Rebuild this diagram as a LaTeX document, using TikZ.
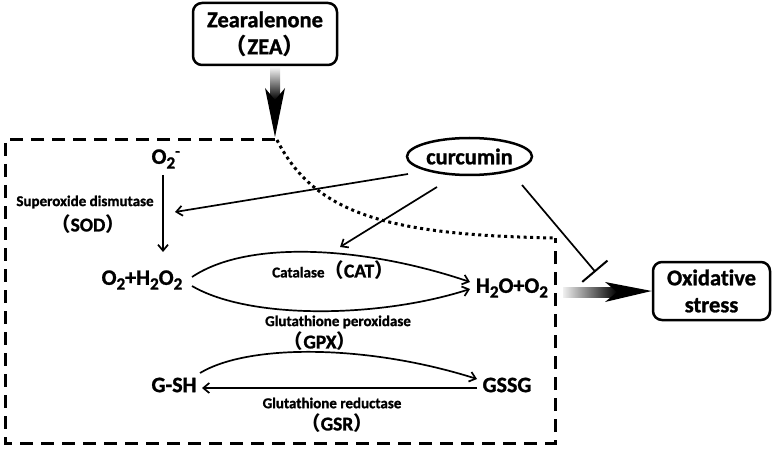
\documentclass[tikz,border=0pt]{standalone}
\usepackage{fontspec}
\setmainfont{Carlito}[Ligatures=NoCommon, BoldFeatures={FakeBold=1.2}]
\newfontfamily\cjk{Noto Sans CJK SC}
\usetikzlibrary{shapes.geometric,arrows.meta}
\newcommand{\chsub}[1]{\raisebox{-0.45ex}{\scalebox{0.78}{#1}}}
\newcommand{\lp}{{\cjk （}}
\newcommand{\rp}{{\cjk ）}}
\tikzset{
  bigtxt/.style={font=\bfseries\fontsize{22.5}{27}\selectfont, align=center},
  medtxt/.style={font=\bfseries\fontsize{22}{24}\selectfont, inner sep=0pt},
  smalltxt/.style={font=\bfseries\fontsize{15}{17}\selectfont, inner sep=0pt},
  parentxt/.style={font=\bfseries\fontsize{19.5}{22}\selectfont, inner sep=0pt},
  roundbox/.style={draw, line width=2.5pt, rounded corners=9pt, inner sep=0pt},
  arr/.style={line width=1.7pt, -{Straight Barb[length=6pt,width=10pt,line width=1.7pt]}},
  inhib/.style={line width=1.7pt, -{Bar[width=33pt,line width=2pt]}},
  dashbox/.style={line width=3pt, dash pattern=on 13pt off 8pt},
  dotline/.style={line width=3pt, dash pattern=on 3pt off 3.5pt},
}
\begin{document}
\begin{tikzpicture}[x=1pt,y=-1pt]
\useasboundingbox (0,0) rectangle (773,449);

% main boxes
\node[roundbox, bigtxt, minimum width=144pt, minimum height=62pt] (zea) at (265,34) {Zearalenone\\\lp ZEA\rp};
\node[roundbox, bigtxt, minimum width=117pt, minimum height=58pt] (ox) at (711.5,291) {Oxidative\\stress};
\node[draw, ellipse, line width=2.5pt, bigtxt, inner sep=0pt, minimum width=125pt, minimum height=37pt] (cur) at (469.5,156.5) {curcumin};

% species
\node[medtxt] (o2m) at (166,159) {O\chsub{2}\textsuperscript{-}};
\node[medtxt] (r1) at (142,280) {O\chsub{2}+H\chsub{2}O\chsub{2}};
\node[medtxt] (p1) at (512,288) {H\chsub{2}O+O\chsub{2}};
\node[medtxt] (gsh) at (174,385) {G-SH};
\node[medtxt] (gssg) at (507,385) {GSSG};

% enzyme labels
\node[smalltxt] (sod1) at (85,202) {Superoxide dismutase};
\node[parentxt] (sod2) at (88,224) {\lp SOD\rp};
\node[parentxt] (cat) at (333,270) {{\fontsize{15}{17}\selectfont Catalase}\lp CAT\rp};
\node[smalltxt] (gpx1) at (338,322) {Glutathione peroxidase};
\node[parentxt] (gpx2) at (320,341) {\lp GPX\rp};
\node[smalltxt] (gsr1) at (332,403) {Glutathione reductase};
\node[parentxt] (gsr2) at (337,423) {\lp GSR\rp};

% connector endpoints
\coordinate (zeatip) at (275,137);
\coordinate (dotend) at (555,238);
\coordinate (sodA) at (163,175);
\coordinate (sodB) at (163,252);
\coordinate (catA) at (192,277);
\coordinate (catB) at (470,282);
\coordinate (gpxA) at (192,286);
\coordinate (gpxB) at (470,289);
\coordinate (gA) at (200,373);
\coordinate (gB) at (477,379);
\coordinate (gsrA) at (477,388);
\coordinate (gsrB) at (202,388);
\coordinate (c1A) at (408,174);
\coordinate (c1B) at (175,212);
\coordinate (c2A) at (437,187);
\coordinate (c2B) at (340,247);
\coordinate (c3A) at (522,185);
\coordinate (c3B) at (595.5,272);

% dashed region and dotted path
\draw[dashbox] (zeatip |- 0,140) -- (5,140) -- (5,443) -- (555,443) -- (dotend);
\draw[dotline] (277,140) .. controls (315,215) and (390,235) .. (dotend);

% gradient arrow from ZEA
\shade[top color=gray!12, bottom color=black] (270,68) rectangle (280,100);
\fill[black] (275,100) -- (265,88) -- (zeatip) -- (285,88) -- cycle;

% gradient arrow to oxidative stress
\shade[left color=gray!12, right color=black] (563,287) rectangle (617,297);
\fill[black] (617,292) -- (605,282) -- (ox.west) -- (605,302) -- cycle;

% reactions
\draw[arr] (sodA) -- (sodB);
\draw[arr] (catA) .. controls (250,238) and (370,248) .. (catB);
\draw[arr] (gpxA) .. controls (250,320) and (380,318) .. (gpxB);
\draw[arr] (gA) .. controls (250,343) and (370,345) .. (gB);
\draw[arr] (gsrA) -- (gsrB);

% curcumin effects
\draw[arr] (c1A) -- (c1B);
\draw[arr] (c2A) -- (c2B);
\draw[inhib] (c3A) -- (c3B);
\end{tikzpicture}
\end{document}
